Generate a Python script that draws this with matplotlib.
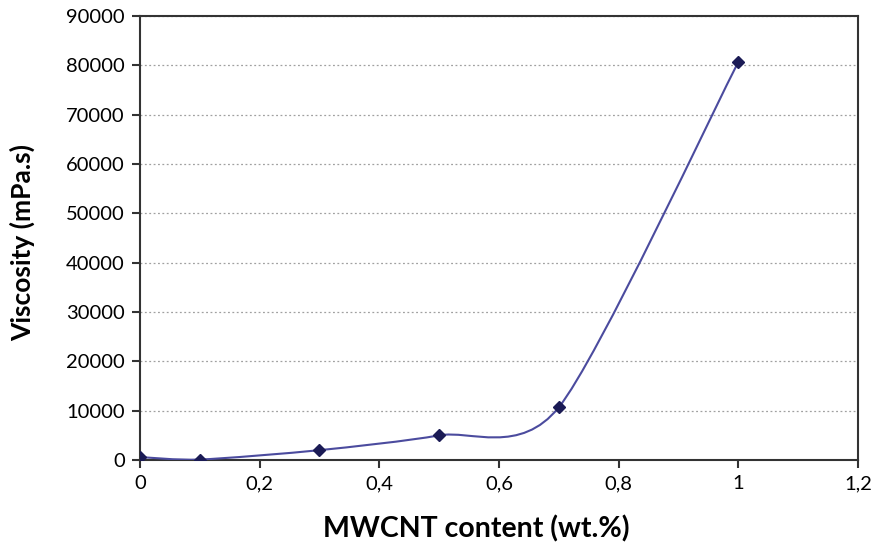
import numpy as np
import matplotlib
matplotlib.use("Agg")
import matplotlib.pyplot as plt
from matplotlib.path import Path
from matplotlib.patches import PathPatch
from matplotlib.ticker import FuncFormatter

content = [0.0, 0.1, 0.3, 0.5, 0.7, 1.0]
viscosity = [600, 100, 2000, 5000, 10700, 80700]
xticks = [0, 0.2, 0.4, 0.6, 0.8, 1.0, 1.2]
xtick_labels = ["0", "0,2", "0,4", "0,6", "0,8", "1", "1,2"]
yticks = list(range(0, 90001, 10000))

plt.rcParams['font.family'] = ['Lato', 'DejaVu Sans']

fig = plt.figure(figsize=(8.82, 5.5), dpi=100)
ax = fig.add_axes([0.1587, 0.1636, 0.8141, 0.8073])

# Excel-style smoothed line (cardinal Bezier segments)
tension = 0.13
P = np.column_stack([content, viscosity]).astype(float)
n = len(P)
verts = [tuple(P[0])]
codes = [Path.MOVETO]
for i in range(n - 1):
    p0 = P[i - 1] if i > 0 else P[i]
    p1 = P[i]
    p2 = P[i + 1]
    p3 = P[i + 2] if i + 2 < n else P[i + 1]
    c1 = p1 + (p2 - p0) * tension
    c2 = p2 - (p3 - p1) * tension
    verts += [tuple(c1), tuple(c2), tuple(p2)]
    codes += [Path.CURVE4] * 3
patch = PathPatch(Path(verts, codes), facecolor='none', edgecolor='#4b4b9e', lw=1.5, zorder=3)
ax.add_patch(patch)
ax.plot(content, viscosity, linestyle='none', marker='D', ms=6, color='#1b1b55', zorder=4)

ax.set_xlim(0, 1.2)
ax.set_ylim(0, 90000)
ax.set_xticks(xticks)
ax.set_xticklabels(xtick_labels)
ax.set_yticks(yticks)
ax.yaxis.set_major_formatter(FuncFormatter(lambda v, p: f"{int(v)}"))
ax.grid(axis='y', linestyle=(0, (1.5, 2)), color='#a0a0a0', lw=0.9)
ax.set_axisbelow(True)
for s in ax.spines.values():
    s.set_linewidth(1.5)
    s.set_color('#333333')
ax.tick_params(direction='out', length=6, width=1.5, color='#333333', labelsize=14.5, pad=5)
ax.set_xlabel("MWCNT content (wt.%)", fontsize=20.5, fontweight='bold')
ax.set_ylabel("Viscosity (mPa.s)", fontsize=19, fontweight='bold')
ax.xaxis.set_label_coords(0.469, -0.125)
ax.yaxis.set_label_coords(-0.146, 0.489)

fig.savefig("out.png", dpi=100)
